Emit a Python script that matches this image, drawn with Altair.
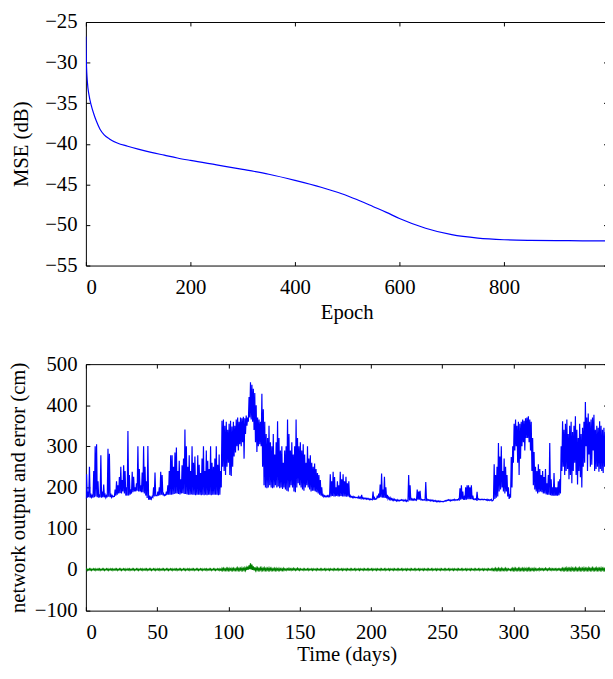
import altair as alt
import pandas as pd

FONT = "Liberation Serif"
BLUE = "#0000ff"
GREEN = "#008000"

# ---------------- top panel: training curve ----------------
epochs = [0, 1, 3, 6, 10, 15, 20, 27, 35, 45, 60, 80, 100, 125, 150, 175, 200,
          250, 300, 350, 400, 450, 475, 500, 525, 550, 575, 600, 650, 700,
          750, 800, 850, 900, 950, 998]
mse_db = [-26.8, -30.0, -32.5, -34.0, -35.2, -36.3, -37.2, -38.2, -38.9, -39.4,
          -39.9, -40.3, -40.65, -41.05, -41.4, -41.75, -42.05, -42.6, -43.15,
          -43.75, -44.5, -45.35, -45.85, -46.4, -47.05, -47.75, -48.45, -49.2,
          -50.4, -51.2, -51.62, -51.82, -51.9, -51.93, -51.95, -51.97]
epoch_ticks = [0, 200, 400, 600, 800]
mse_ticks = [-55, -50, -45, -40, -35, -30, -25]

# ---------------- bottom panel: daily envelope (lower / upper) ----------------
out_high = [
    232, 190, 250, 185, 180, 240, 300, 305, 215, 180,
    278, 190, 207, 182, 180, 294, 282, 185, 180, 178,
    195, 215, 205, 225, 250, 218, 254, 240, 200, 337,
    230, 195, 238, 226, 200, 210, 300, 245, 205, 236,
    300, 250, 215, 301, 180, 176, 178, 200, 236, 180,
    190, 200, 238, 230, 185, 182, 190, 205, 240, 278,
    278, 250, 285, 297, 240, 265, 220, 254, 270, 341,
    300, 250, 278, 240, 300, 260, 275, 230, 278, 255,
    235, 270, 300, 240, 290, 265, 245, 300, 260, 250,
    270, 300, 255, 280, 240, 362, 365, 350, 360, 340,
    355, 362, 348, 360, 350, 365, 370, 360, 370, 368,
    372, 368, 375, 370, 420, 456, 450, 440, 430, 400,
    370, 365, 360, 428, 390, 360, 330, 320, 350, 310,
    300, 330, 280, 310, 361, 320, 290, 300, 260, 290,
    300, 365, 330, 290, 310, 280, 300, 365, 320, 300,
    310, 290, 305, 280, 260, 300, 270, 278, 260, 250,
    258, 245, 235, 230, 218, 200, 182, 180, 179, 180,
    180, 232, 215, 238, 225, 200, 215, 205, 238, 220,
    232, 215, 226, 210, 215, 180, 178, 178, 177, 176,
    176, 178, 176, 182, 175, 174, 174, 173, 173, 172,
    171, 190, 175, 172, 180, 185, 207, 234, 195, 226,
    200, 182, 176, 175, 173, 172, 171, 170, 170, 169,
    169, 170, 170, 169, 170, 168, 230, 205, 172, 172,
    172, 171, 195, 190, 192, 171, 170, 170, 213, 171,
    170, 170, 169, 169, 168, 168, 167, 167, 167, 166,
    166, 167, 168, 169, 170, 170, 169, 170, 171, 170,
    170, 172, 198, 205, 190, 176, 200, 205, 205, 200,
    205, 180, 172, 172, 189, 172, 171, 171, 171, 171,
    170, 171, 170, 170, 171, 168, 256, 230, 250, 308,
    275, 300, 240, 270, 250, 230, 200, 180, 274, 300,
    355, 365, 350, 360, 355, 360, 365, 362, 368, 370,
    373, 365, 360, 320, 286, 250, 240, 256, 245, 230,
    240, 225, 245, 210, 230, 308, 220, 200, 235, 200,
    200, 215, 220, 300, 361, 340, 355, 365, 330, 350,
    360, 335, 350, 373, 340, 320, 355, 330, 345, 360,
    408, 370, 380, 360, 365, 370, 377, 340, 350, 345,
    361, 350, 340, 345, 335, 330,
]
out_low = [
    172, 175, 176, 175, 176, 175, 176, 178, 176, 175,
    176, 175, 176, 176, 175, 176, 177, 176, 176, 177,
    178, 180, 182, 185, 186, 185, 190, 185, 180, 180,
    180, 182, 185, 188, 190, 190, 192, 190, 190, 188,
    188, 185, 180, 174, 170, 170, 172, 176, 178, 180,
    180, 180, 181, 182, 181, 180, 181, 182, 182, 182,
    182, 183, 184, 185, 185, 184, 183, 185, 186, 184,
    184, 183, 182, 182, 183, 182, 182, 181, 182, 182,
    182, 181, 182, 181, 182, 181, 182, 182, 181, 182,
    182, 182, 182, 181, 182, 200, 250, 240, 230, 250,
    260, 230, 228, 250, 275, 285, 300, 290, 305, 300,
    310, 270, 330, 350, 360, 370, 365, 360, 340, 310,
    286, 300, 305, 300, 250, 205, 200, 198, 200, 205,
    200, 198, 200, 205, 200, 202, 198, 200, 196, 200,
    195, 192, 190, 200, 205, 200, 190, 188, 200, 210,
    205, 200, 195, 192, 200, 205, 200, 195, 190, 192,
    192, 190, 188, 185, 182, 180, 178, 177, 177, 177,
    177, 178, 178, 179, 178, 178, 179, 178, 178, 179,
    178, 178, 178, 177, 178, 176, 176, 175, 175, 175,
    175, 174, 174, 173, 173, 172, 172, 171, 171, 170,
    170, 170, 170, 171, 172, 174, 175, 176, 175, 175,
    174, 173, 172, 171, 170, 169, 168, 168, 167, 167,
    167, 168, 168, 167, 167, 166, 167, 168, 168, 169,
    169, 169, 169, 170, 170, 170, 169, 169, 169, 169,
    168, 168, 167, 167, 166, 166, 165, 165, 165, 165,
    165, 165, 166, 167, 168, 168, 167, 168, 169, 168,
    169, 169, 170, 170, 171, 170, 170, 170, 171, 171,
    171, 171, 171, 170, 170, 170, 170, 170, 170, 170,
    170, 169, 168, 168, 169, 167, 170, 172, 175, 178,
    190, 195, 200, 190, 185, 190, 178, 172, 175, 200,
    260, 290, 300, 260, 230, 270, 300, 310, 290, 320,
    320, 310, 290, 240, 205, 195, 190, 185, 188, 190,
    188, 185, 185, 183, 182, 182, 181, 180, 180, 180,
    180, 180, 181, 185, 240, 250, 230, 240, 245, 220,
    230, 210, 240, 260, 230, 207, 240, 225, 200, 250,
    260, 300, 240, 280, 250, 255, 290, 240, 245, 250,
    238, 245, 240, 235, 250, 240,
]
err_high = [
    2, 1, 2, 2, 1, 2, 2, 1, 2, 2,
    1, 2, 2, 1, 2, 2, 1, 2, 2, 1,
    2, 2, 1, 2, 2, 1, 2, 2, 1, 2,
    2, 1, 2, 2, 1, 2, 2, 1, 2, 2,
    1, 2, 2, 1, 2, 2, 1, 2, 2, 1,
    2, 2, 1, 2, 2, 1, 2, 2, 1, 2,
    2, 1, 2, 2, 1, 2, 2, 1, 2, 2,
    1, 2, 2, 1, 2, 2, 1, 2, 2, 1,
    2, 2, 1, 2, 2, 1, 2, 2, 1, 2,
    2, 1, 2, 2, 1, 3, 3, 2, 3, 3,
    3, 2, 3, 3, 2, 3, 4, 3, 3, 4,
    3, 4, 5, 7, 10, 15, 12, 8, 5, 4,
    4, 3, 4, 4, 3, 4, 3, 3, 4, 3,
    3, 2, 3, 3, 2, 3, 2, 2, 3, 2,
    2, 2, 3, 2, 2, 3, 2, 2, 3, 2,
    2, 1, 2, 2, 1, 2, 2, 1, 2, 2,
    1, 2, 2, 1, 2, 2, 1, 2, 2, 1,
    2, 2, 1, 2, 2, 1, 2, 2, 1, 2,
    2, 1, 2, 2, 1, 2, 2, 1, 2, 2,
    1, 2, 2, 1, 2, 2, 1, 2, 2, 1,
    2, 2, 1, 2, 2, 1, 2, 2, 1, 2,
    2, 1, 2, 2, 1, 2, 2, 1, 2, 2,
    1, 2, 2, 1, 2, 2, 1, 2, 2, 1,
    2, 2, 1, 2, 2, 1, 2, 2, 1, 2,
    2, 1, 2, 2, 1, 2, 2, 1, 2, 2,
    1, 2, 2, 1, 2, 2, 1, 2, 2, 1,
    2, 2, 1, 2, 2, 1, 2, 2, 1, 2,
    2, 1, 2, 2, 1, 2, 2, 1, 2, 2,
    1, 2, 2, 1, 2, 2, 2, 3, 2, 3,
    2, 3, 2, 2, 3, 2, 2, 1, 2, 3,
    3, 3, 2, 3, 3, 2, 3, 3, 2, 3,
    3, 3, 2, 2, 3, 2, 2, 2, 3, 2,
    2, 2, 3, 2, 2, 3, 2, 2, 2, 2,
    2, 2, 2, 2, 3, 3, 3, 4, 3, 3,
    4, 3, 3, 4, 3, 3, 4, 3, 3, 4,
    3, 3, 4, 3, 3, 4, 3, 3, 4, 3,
    3, 4, 3, 3, 4, 3,
]
err_low = [
    -1, -2, -1, -1, -2, -1, -1, -2, -1, -1,
    -2, -1, -1, -2, -1, -1, -2, -1, -1, -2,
    -1, -1, -2, -1, -1, -2, -1, -1, -2, -1,
    -1, -2, -1, -1, -2, -1, -1, -2, -1, -1,
    -2, -1, -1, -2, -1, -1, -2, -1, -1, -2,
    -1, -1, -2, -1, -1, -2, -1, -1, -2, -1,
    -1, -2, -1, -1, -2, -1, -1, -2, -1, -1,
    -2, -1, -1, -2, -1, -1, -2, -1, -1, -2,
    -1, -1, -2, -1, -1, -2, -1, -1, -2, -1,
    -1, -2, -1, -1, -2, -2, -2, -2, -2, -2,
    -2, -2, -2, -2, -2, -2, -2, -2, -2, -2,
    -2, -2, -2, -1, 0, 1, 0, -1, -2, -2,
    -2, -2, -2, -2, -2, -2, -2, -2, -2, -2,
    -2, -2, -2, -2, -2, -2, -2, -2, -2, -2,
    -1, -2, -1, -1, -2, -1, -1, -2, -1, -1,
    -2, -1, -1, -2, -1, -1, -2, -1, -1, -2,
    -1, -1, -2, -1, -1, -2, -1, -1, -2, -1,
    -1, -2, -1, -1, -2, -1, -1, -2, -1, -1,
    -2, -1, -1, -2, -1, -1, -2, -1, -1, -2,
    -1, -1, -2, -1, -1, -2, -1, -1, -2, -1,
    -1, -2, -1, -1, -2, -1, -1, -2, -1, -1,
    -2, -1, -1, -2, -1, -1, -2, -1, -1, -2,
    -1, -1, -2, -1, -1, -2, -1, -1, -2, -1,
    -1, -2, -1, -1, -2, -1, -1, -2, -1, -1,
    -2, -1, -1, -2, -1, -1, -2, -1, -1, -2,
    -1, -1, -2, -1, -1, -2, -1, -1, -2, -1,
    -1, -2, -1, -1, -2, -1, -1, -2, -1, -1,
    -2, -1, -1, -2, -1, -1, -2, -1, -1, -2,
    -1, -1, -2, -1, -1, -2, -2, -2, -2, -2,
    -2, -2, -2, -2, -2, -2, -2, -1, -2, -2,
    -2, -2, -2, -2, -2, -2, -2, -2, -2, -2,
    -2, -2, -2, -2, -2, -2, -2, -1, -2, -1,
    -1, -2, -1, -1, -2, -1, -1, -2, -1, -1,
    -2, -1, -1, -2, -2, -2, -2, -2, -2, -2,
    -2, -2, -2, -2, -2, -2, -2, -2, -2, -2,
    -2, -2, -2, -2, -2, -2, -2, -2, -2, -2,
    -2, -2, -2, -2, -2, -2,
]
day_ticks = [0, 50, 100, 150, 200, 250, 300, 350]
cm_ticks = [-100, 0, 100, 200, 300, 400, 500]

# Interleave each day's lower and upper reading (half-day apart)
t_out, v_out, t_err, v_err = [], [], [], []
for d in range(len(out_high)):
    t_out += [d, d + 0.5]
    v_out += [out_low[d], out_high[d]]
    t_err += [d, d + 0.5]
    v_err += [err_low[d], err_high[d]]

mse_df = pd.DataFrame({"epoch": epochs, "mse": mse_db})
out_df = pd.DataFrame({"day": t_out, "cm": v_out})
err_df = pd.DataFrame({"day": t_err, "cm": v_err})

W = 529
H_TOP = 247
H_BOT = 250
FS = 21


def main_axis(orient, values, title, label_pad, title_pad):
    return alt.Axis(orient=orient, values=values, title=title, ticks=False,
                    tickSize=0, domain=False, grid=False,
                    labelPadding=label_pad, titlePadding=title_pad)


def tick_axis(orient, values):
    return alt.Axis(orient=orient, values=values, title=None, labels=False,
                    domain=False, grid=False, ticks=True, tickSize=4,
                    offset=-4, tickColor="black", tickWidth=1,
                    minExtent=0, maxExtent=4)


# top panel
xs_top = alt.Scale(domain=[0, 998], nice=False, zero=False)
ys_top = alt.Scale(domain=[-55, -25], nice=False, zero=False)

top_line = alt.Chart(mse_df).mark_line(
    color=BLUE, strokeWidth=1.2, interpolate="monotone", clip=True
).encode(
    x=alt.X("epoch:Q", scale=xs_top,
            axis=main_axis("bottom", epoch_ticks, "Epoch", 11, 5)),
    y=alt.Y("mse:Q", scale=ys_top,
            axis=main_axis("left", mse_ticks, "MSE (dB)", 9, 13)),
)
top_t1 = alt.Chart(mse_df).mark_line(opacity=0).encode(
    x=alt.X("epoch:Q", scale=xs_top, axis=tick_axis("top", epoch_ticks)),
    y=alt.Y("mse:Q", scale=ys_top, axis=tick_axis("right", mse_ticks)),
)
top_t2 = alt.Chart(mse_df).mark_line(opacity=0).encode(
    x=alt.X("epoch:Q", scale=xs_top, axis=tick_axis("bottom", epoch_ticks)),
    y=alt.Y("mse:Q", scale=ys_top, axis=tick_axis("left", mse_ticks)),
)
top = alt.layer(top_line, top_t1, top_t2).resolve_axis(
    x="independent", y="independent"
).properties(width=W, height=H_TOP)

# bottom panel
xs_bot = alt.Scale(domain=[0, 366], nice=False, zero=False)
ys_bot = alt.Scale(domain=[-100, 500], nice=False, zero=False)

bot_out = alt.Chart(out_df).mark_line(
    color=BLUE, strokeWidth=1.2, clip=True
).encode(
    x=alt.X("day:Q", scale=xs_bot,
            axis=main_axis("bottom", day_ticks, "Time (days)", 11, 2)),
    y=alt.Y("cm:Q", scale=ys_bot,
            axis=main_axis("left", cm_ticks, "network output and error (cm)", 9, 5.5)),
)
bot_err = alt.Chart(err_df).mark_line(
    color=GREEN, strokeWidth=1.2, clip=True
).encode(
    x=alt.X("day:Q", scale=xs_bot, axis=None),
    y=alt.Y("cm:Q", scale=ys_bot, axis=None),
)
bot_t1 = alt.Chart(err_df).mark_line(opacity=0).encode(
    x=alt.X("day:Q", scale=xs_bot, axis=tick_axis("top", day_ticks)),
    y=alt.Y("cm:Q", scale=ys_bot, axis=tick_axis("right", cm_ticks)),
)
bot_t2 = alt.Chart(err_df).mark_line(opacity=0).encode(
    x=alt.X("day:Q", scale=xs_bot, axis=tick_axis("bottom", day_ticks)),
    y=alt.Y("cm:Q", scale=ys_bot, axis=tick_axis("left", cm_ticks)),
)
bottom = alt.layer(bot_out, bot_err, bot_t1, bot_t2).resolve_axis(
    x="independent", y="independent"
).properties(width=W, height=H_BOT)

chart = alt.vconcat(top, bottom, spacing=100, bounds="flush").properties(
    padding={"left": -1, "top": -2.5, "right": -3.5, "bottom": 0},
    background="white",
).configure_view(
    stroke="black", strokeWidth=1
).configure_axis(
    labelFont=FONT, titleFont=FONT, labelFontSize=FS, titleFontSize=FS,
    titleFontWeight="normal", labelColor="black", titleColor="black",
)

chart.save("out.html", embed_options={"renderer": "svg", "actions": False})
